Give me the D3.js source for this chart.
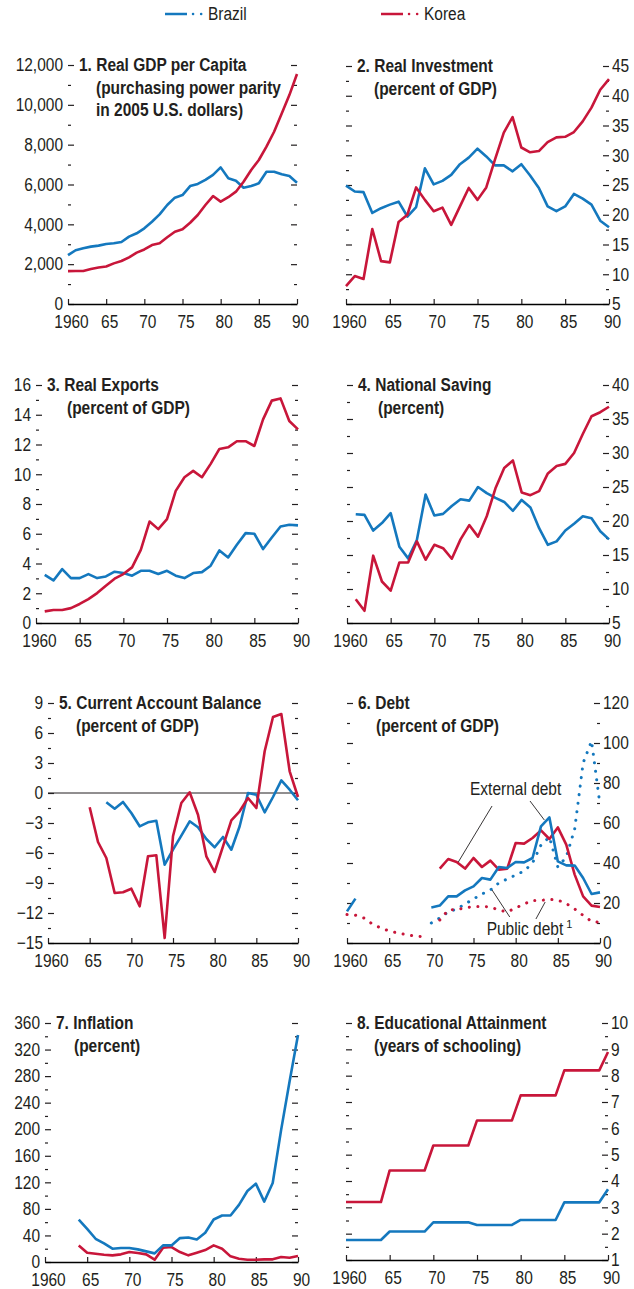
<!DOCTYPE html>
<html>
<head>
<meta charset="utf-8">
<script src="https://cdn.jsdelivr.net/npm/d3@7"></script>
<style>
  body { margin: 0; background: #fff; }
  svg text { font-family: "Liberation Sans", Arial, sans-serif; fill: #231f20; }
  .tick text { font-size: 18px; }
  .title { font-size: 18px; font-weight: bold; }
  .legend text, .note { font-size: 18px; }
</style>
</head>
<body>
<svg id="chart" width="634" height="1289"></svg>
<script>
var years = d3.range(1960, 1991);
var yearTicks = [1960, 1965, 1970, 1975, 1980, 1985, 1990];
var yearTickLabels = ["1960", "65", "70", "75", "80", "85", "90"];

var BLUE = "#1478be", RED = "#c8163a";
var CONDENSE = 0.86;   // the original uses a condensed face

// 1. real GDP per capita
var brazilGdp = [2450, 2700, 2800, 2880, 2930, 3010, 3050, 3110, 3380, 3550, 3800, 4130, 4500, 4970, 5340, 5470,
  5920, 6030, 6230, 6480, 6860, 6310, 6190, 5840, 5920, 6060, 6640, 6640, 6510, 6430, 6090];
var koreaGdp = [1650, 1660, 1660, 1760, 1830, 1880, 2040, 2160, 2340, 2580, 2740, 2960, 3050, 3350, 3630, 3750,
  4080, 4470, 4970, 5420, 5140, 5360, 5640, 6140, 6730, 7230, 7900, 8650, 9570, 10490, 11550];

// 2. real investment
var brazilInv = [24.9, 23.9, 23.8, 20.3, 21.1, 21.7, 22.2, 19.7, 21.3, 27.8, 25.1, 25.7, 26.7, 28.5, 29.6, 31.1,
  29.8, 28.3, 28.3, 27.3, 28.5, 26.6, 24.5, 21.4, 20.6, 21.4, 23.5, 22.7, 21.7, 19.0, 17.9];
var koreaInv = [8.0, 9.7, 9.2, 17.6, 12.2, 12.0, 18.8, 20.0, 24.6, 22.5, 20.6, 21.2, 18.3, 21.4, 24.5, 22.5,
  24.6, 29.3, 33.8, 36.4, 31.3, 30.5, 30.7, 32.2, 33.0, 33.1, 33.9, 35.7, 38.0, 41.0, 42.8];

// 3. real exports
var brazilExp = [null, 3.24, 2.86, 3.62, 3.02, 3.02, 3.29, 3.02, 3.13, 3.45, 3.36, 3.18, 3.51, 3.51, 3.29, 3.51,
  3.18, 3.02, 3.36, 3.42, 3.85, 4.88, 4.41, 5.26, 6.04, 6.0, 4.97, 5.75, 6.49, 6.6, 6.56];
var koreaExp = [null, 0.78, 0.87, 0.87, 1.0, 1.28, 1.61, 2.01, 2.51, 2.98, 3.29, 3.74, 4.92, 6.82, 6.31, 6.98,
  8.88, 9.8, 10.23, 9.8, 10.7, 11.7, 11.81, 12.22, 12.22, 11.9, 13.69, 14.95, 15.1, 13.58, 13.02];

// 4. national saving
var brazilSav = [null, 21.0, 20.9, 18.6, 19.7, 21.15, 16.2, 14.5, 17.2, 23.9, 20.8, 21.05, 22.2, 23.2, 23.0, 25.0,
  24.1, 23.4, 22.8, 21.5, 23.1, 22.0, 18.95, 16.5, 17.0, 18.6, 19.6, 20.7, 20.4, 18.5, 17.3];
var koreaSav = [null, 8.5, 6.8, 14.9, 11.1, 9.75, 13.9, 13.9, 17.0, 14.3, 16.5, 16.0, 14.45, 17.3, 19.4, 17.7,
  20.7, 24.8, 27.8, 28.9, 24.2, 23.8, 24.4, 27.0, 28.1, 28.4, 30.0, 32.8, 35.4, 36.0, 36.8];

// 5. current account balance
var brazilCA = [null, null, null, null, null, null, null, -0.93, -1.57, -0.9, -2.0, -3.33, -2.93, -2.77, -7.17, -5.67,
  -4.27, -2.83, -3.43, -4.6, -5.43, -4.4, -5.67, -3.33, 0.0, -0.17, -1.93, -0.4, 1.27, 0.33, -0.73];
var koreaCA = [null, null, null, null, null, -1.43, -4.9, -6.5, -10.0, -9.93, -9.57, -11.33, -6.33, -6.23, -14.5, -4.33,
  -1.0, 0.07, -2.17, -6.33, -7.9, -5.33, -2.73, -1.83, -0.5, -1.5, 4.17, 7.6, 7.9, 2.17, -0.4];

// 6. debt
var brazilExtDebt = [15.8, 22.2, null, null, null, null, null, null, null, null, 17.8, 18.7, 23.3, 23.3, 26.3, 28.3,
  32.5, 31.7, 38, 37.5, 40.5, 40.3, 42.5, 58.3, 62.8, 40.8, 38.8, 38.7, 32.5, 24.5, 25.3];
var koreaExtDebt = [null, null, null, null, null, null, null, null, null, null, null, 37.2, 42, 40.5, 37.2, 42.5,
  38, 41.2, 36.7, 37.2, 50, 49.7, 52.5, 56.3, 52, 57.8, 49.2, 34.2, 23.3, 18.7, 18];
var brazilPubDebt = [null, null, null, null, null, null, null, null, null, null, 10, 12.5, 15.5, 17, 19.5, 22,
  24.5, 26.5, 30, 32, 34, 36, 40, 49, 53, 38, 43, 57, 90, 101, 69];
var koreaPubDebt = [14.2, 13.9, 12.5, 9.5, 7.5, 6, 5, 4.2, 3.5, 3.2, null, 11.5, 16.5, 16.8, 17.5, 18.3,
  18.3, 18, 16.5, 15.5, 17.5, 19.5, 21.3, 21.3, 21.8, 21.5, 19.7, 17, 13.8, 10.8, 10.3];

// 7. inflation
var brazilInf = [null, null, null, null, 64, 50, 35, 28, 20, 21, 21, 19, 16, 13, 25, 25,
  36, 37, 34, 44, 64, 70, 70, 86, 107, 118, 91, 119, 199, 272, 342];
var koreaInf = [null, null, null, null, 25, 14, 12.5, 11, 10, 11.5, 15, 13.5, 11.5, 3.5, 21.5, 22.5,
  15, 10, 14, 18, 25, 20, 8.5, 5, 3.5, 3.5, 4, 4, 7.5, 6.5, 9];

// 8. educational attainment
var brazilEdu = [1.76, 1.76, 1.76, 1.76, 1.76, 2.08, 2.08, 2.08, 2.08, 2.08, 2.43, 2.43, 2.43, 2.43, 2.43, 2.33,
  2.33, 2.33, 2.33, 2.33, 2.52, 2.52, 2.52, 2.52, 2.52, 3.19, 3.19, 3.19, 3.19, 3.19, 3.69];
var koreaEdu = [3.2, 3.2, 3.2, 3.2, 3.2, 4.4, 4.4, 4.4, 4.4, 4.4, 5.35, 5.35, 5.35, 5.35, 5.35, 6.3,
  6.3, 6.3, 6.3, 6.3, 7.25, 7.25, 7.25, 7.25, 7.25, 8.2, 8.2, 8.2, 8.2, 8.2, 8.9];

var svg = d3.select("#chart");

function condense(sel) {
    sel.each(function () {
        var len = this.getComputedTextLength();
        if (len > 0) d3.select(this).attr("textLength", len * CONDENSE).attr("lengthAdjust", "spacingAndGlyphs");
    });
}

// legend
var legend = svg.append("g").attr("class", "legend");
[[165, "Brazil", BLUE], [381, "Korea", RED]].forEach(function (l) {
    legend.append("line").attr("x1", l[0]).attr("x2", l[0] + 22).attr("y1", 14).attr("y2", 14)
        .attr("stroke", l[2]).attr("stroke-width", 2.5);
    legend.append("line").attr("x1", l[0] + 28).attr("x2", l[0] + 37).attr("y1", 14).attr("y2", 14)
        .attr("stroke", l[2]).attr("stroke-width", 2.5).attr("stroke-linecap", "round")
        .attr("stroke-dasharray", "0.1 8");
    legend.append("text").attr("x", l[0] + 43).attr("y", 20).text(l[1]);
});

var panels = [
    {box: [68, 297, 65, 304], side: "left", domain: [0, 12000], step: 2000, fmt: d3.format(","), indent: 17,
        num: "1.", title: ["Real GDP per Capita", "(purchasing power parity", "in 2005 U.S. dollars)"],
        series: [[brazilGdp, BLUE], [koreaGdp, RED]]},
    {box: [346, 609, 66, 304], side: "right", domain: [5, 45], step: 5, indent: 17,
        num: "2.", title: ["Real Investment", "(percent of GDP)"],
        series: [[brazilInv, BLUE], [koreaInv, RED]]},
    {box: [36, 298, 385, 623], side: "left", domain: [0, 16], step: 2, indent: 20,
        num: "3. ", title: ["Real Exports", "(percent of GDP)"],
        series: [[brazilExp, BLUE], [koreaExp, RED]]},
    {box: [347, 609, 385, 623], side: "right", domain: [5, 40], step: 5, indent: 20,
        num: "4. ", title: ["National Saving", "(percent)"],
        series: [[brazilSav, BLUE], [koreaSav, RED]]},
    {box: [48, 298, 703, 943], side: "left", domain: [-15, 9], step: 3, indent: 17, zero: true,
        num: "5.", title: ["Current Account Balance", "(percent of GDP)"],
        series: [[brazilCA, BLUE], [koreaCA, RED]]},
    {box: [347, 600, 703, 943], side: "right", domain: [0, 120], step: 20, indent: 18, debt: true,
        num: "6.", title: ["Debt", "(percent of GDP)"],
        series: [[brazilPubDebt, BLUE, true], [koreaPubDebt, RED, true], [koreaExtDebt, RED], [brazilExtDebt, BLUE]]},
    {box: [45, 298, 1023, 1262], side: "left", domain: [0, 360], step: 40, indent: 18,
        num: "7.", title: ["Inflation", "(percent)"],
        series: [[koreaInf, RED], [brazilInf, BLUE]]},
    {box: [346, 608, 1023, 1260], side: "right", domain: [1, 10], step: 1, indent: 17,
        num: "8.", title: ["Educational Attainment", "(years of schooling)"],
        series: [[brazilEdu, BLUE], [koreaEdu, RED]]}
];

panels.forEach(function (p) {
    var x0 = p.box[0], x1 = p.box[1], y0 = p.box[2], y1 = p.box[3];
    var x = d3.scaleLinear().domain([1960, 1990]).range([x0, x1]);
    var y = d3.scaleLinear().domain(p.domain).range([y1, y0]);
    var g = svg.append("g");

    var major = d3.range(p.domain[0], p.domain[1] + p.step / 2, p.step);
    var minor = d3.range(p.domain[0] + p.step / 2, p.domain[1], p.step);
    var fmt = p.fmt || d3.format("d");

    // y ticks on both edges, pointing inwards; labels on one side
    var leftMajor = d3.axisLeft(y).tickValues(major).tickSizeInner(-6).tickSizeOuter(0)
        .tickPadding(5).tickFormat(p.side == "left" ? fmt : "");
    var rightMajor = d3.axisRight(y).tickValues(major).tickSizeInner(-6).tickSizeOuter(0)
        .tickPadding(3).tickFormat(p.side == "right" ? fmt : "");
    [[leftMajor, x0], [rightMajor, x1]].forEach(function (a) {
        g.append("g").attr("transform", "translate(" + a[1] + ",0)").call(a[0])
            .call(function (s) { s.select(".domain").remove(); });
    });
    g.append("g").attr("transform", "translate(" + x0 + ",0)")
        .call(d3.axisLeft(y).tickValues(minor).tickSizeInner(-3).tickSizeOuter(0).tickFormat(""))
        .call(function (s) { s.select(".domain").remove(); });
    g.append("g").attr("transform", "translate(" + x1 + ",0)")
        .call(d3.axisRight(y).tickValues(minor).tickSizeInner(-3).tickSizeOuter(0).tickFormat(""))
        .call(function (s) { s.select(".domain").remove(); });

    // x axis
    g.append("g").attr("transform", "translate(0," + y1 + ")")
        .call(d3.axisBottom(x).tickValues(yearTicks).tickSizeInner(-5).tickSizeOuter(0).tickPadding(11)
            .tickFormat(function (d, i) { return yearTickLabels[i]; }))
        .call(function (s) {
            s.select(".domain").attr("stroke-width", 1.5);
            s.selectAll(".tick text").attr("dx", 3);
        });

    g.selectAll(".tick line").attr("stroke", "#231f20").attr("stroke-width", 1.2);
    g.selectAll(".tick text").attr("fill", "#231f20");

    if (p.zero) {
        g.append("line").attr("x1", x0).attr("x2", x1).attr("y1", y(0)).attr("y2", y(0))
            .attr("stroke", "#231f20").attr("stroke-width", 1);
    }

    // title
    g.append("text").attr("class", "title").attr("x", x0 + 11).attr("y", y0 + 6)
        .text(p.num + " " + p.title[0]);
    p.title.slice(1).forEach(function (line, i) {
        g.append("text").attr("class", "title").attr("x", x0 + 11 + p.indent)
            .attr("y", y0 + 6 + 22.5 * (i + 1)).text(line);
    });

    // series
    var line = d3.line()
        .defined(function (d) { return d != null; })
        .x(function (d, i) { return x(years[i]); })
        .y(function (d) { return y(d); });
    p.series.forEach(function (s) {
        g.append("path").datum(s[0])
            .attr("d", line)
            .attr("fill", "none")
            .attr("stroke", s[1])
            .attr("stroke-width", s[2] ? 3 : 2.6)
            .attr("stroke-linejoin", "round")
            .attr("stroke-linecap", s[2] ? "round" : "butt")
            .attr("stroke-dasharray", s[2] ? "0.1 8.5" : null);
    });

    if (p.debt) {
        // annotations for debt panel
        var notes = [
            {text: "External debt", at: [1980, 74], lines: [[1977.2, 68.5, 1973.2, 40.5], [1981.7, 71, 1983.4, 61.5]]},
            {text: "Public debt", sup: "1", at: [1981.1, 4], lines: [[1979.3, 13, 1977.2, 26.5], [1982.4, 12, 1983.5, 20.5]]}
        ];
        notes.forEach(function (n) {
            n.lines.forEach(function (l) {
                g.append("line").attr("x1", x(l[0])).attr("y1", y(l[1])).attr("x2", x(l[2])).attr("y2", y(l[3]))
                    .attr("stroke", "#231f20").attr("stroke-width", 0.9);
            });
            var nt = g.append("text").attr("class", "note").attr("x", x(n.at[0])).attr("y", y(n.at[1]))
                .attr("text-anchor", "middle").text(n.text);
            var w = nt.node().getComputedTextLength() * CONDENSE;
            condense(nt);
            if (n.sup) {
                g.append("text").attr("class", "sup").attr("x", x(n.at[0]) + w / 2 + 3)
                    .attr("y", y(n.at[1]) - 7).attr("font-size", 11).text(n.sup);
            }
        });
    }
});

// squeeze the remaining texts horizontally to mimic the condensed face of the original
condense(svg.selectAll("text:not(.note):not(.sup)"));
</script>
</body>
</html>
